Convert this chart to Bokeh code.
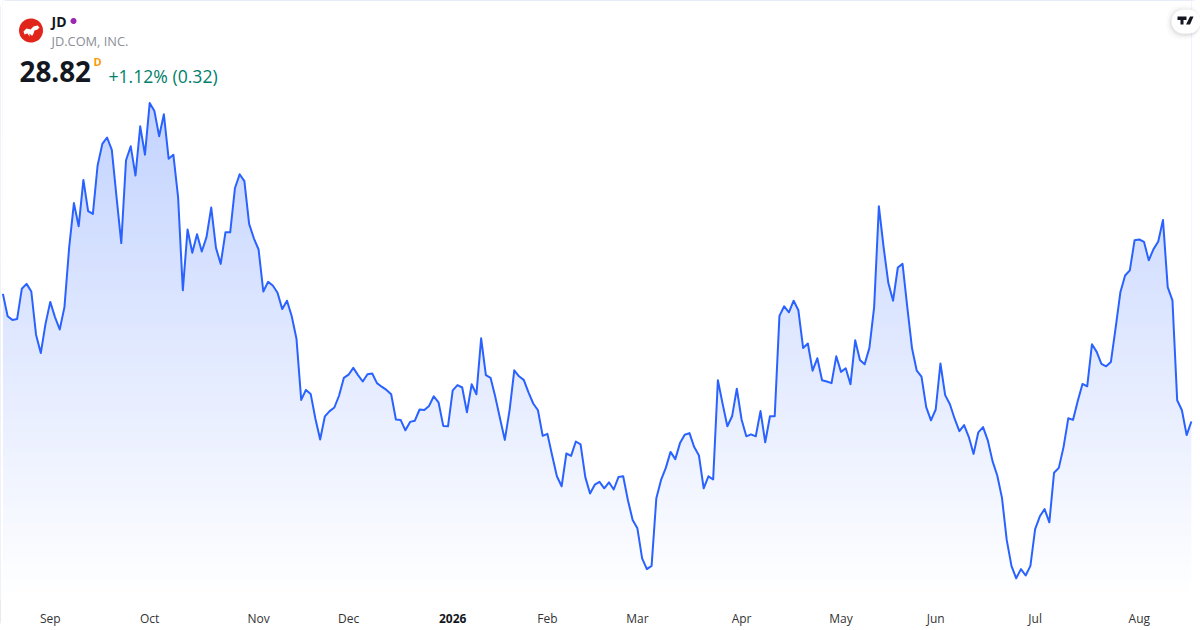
import numpy as np
from bokeh.plotting import figure
from bokeh.embed import file_html
from bokeh.resources import INLINE
from bokeh.models import Range1d, LinearAxis, FixedTicker, Label, BoxAnnotation, PolyAnnotation

close = [
32.01,31.45,31.36,31.38,32.14,32.26,32.07,30.99,30.53,31.26,31.81,31.43,31.12,31.68,33.18,34.28,33.70,34.86,34.08,34.01,
35.22,35.76,35.92,35.61,34.43,33.28,35.35,35.70,34.97,36.20,35.49,36.78,36.58,35.95,36.50,35.39,35.49,34.43,32.10,33.62,
33.04,33.50,33.07,33.43,34.17,33.16,32.76,33.55,33.55,34.65,35.00,34.83,33.76,33.40,33.12,32.07,32.31,32.22,32.04,31.63,
31.84,31.45,30.89,
29.36,29.61,29.51,28.89,28.37,28.95,29.08,29.17,29.47,29.91,29.99,30.16,29.98,29.82,30.00,30.02,29.78,29.69,29.61,29.50,
28.87,28.86,28.60,28.81,28.84,29.12,29.11,29.21,29.45,29.30,28.71,28.70,29.60,29.73,29.67,29.05,29.75,29.50,30.90,29.98,
29.91,29.43,28.89,28.36,29.10,30.10,29.95,29.86,29.55,29.27,29.10,28.46,28.51,27.97,27.45,27.20,28.02,27.96,28.32,28.25,
27.43,27.02,
27.24,27.31,27.15,27.30,27.12,27.43,27.45,26.85,26.36,26.15,25.40,25.13,25.21,26.90,27.36,27.66,28.06,27.88,28.28,28.49,
28.53,28.18,27.97,27.15,27.45,27.37,29.85,29.26,28.70,28.95,29.64,28.87,28.45,28.50,28.45,29.08,28.30,28.95,28.95,31.46,
31.70,31.55,31.84,31.60,30.66,30.77,30.09,30.40,29.85,29.82,29.78,30.45,30.06,30.15,29.75,30.85,30.36,30.25,30.66,31.68,
34.20,33.18,32.28,31.84,32.67,32.76,31.68,30.65,30.09,29.94,29.18,28.85,29.12,30.27,29.48,29.25,28.89,28.58,28.73,28.43,
28.01,28.55,28.68,28.35,27.83,27.47,26.91,25.86,25.21,24.90,25.13,24.97,25.21,26.13,26.45,26.63,26.30,27.54,27.66,28.18,
28.90,28.86,29.33,29.76,29.70,30.75,30.56,30.26,30.20,30.31,31.16,32.05,32.47,32.60,33.35,33.37,33.31,32.85,33.13,33.32,
33.86,32.18,31.85,29.35,29.10,28.48,28.82]
tick_positions = [10, 31, 54, 73, 115, 134, 156, 177, 197, 218, 240]
tick_labels = ["Sep", "Oct", "Nov", "Dec", "Feb", "Mar", "Apr", "May", "Jun", "Jul", "Aug"]
year_position = 95
year_label = "2026"

price = np.array(close)
idx = np.arange(len(price))

W, H, PANEL = 1200, 630, 30
x0, dx = 2.4, 4.735
px_per_unit = 40.0
def X(px): return (px - x0) / dx
def Y(py): return 28.82 + (421.0 - py) / px_per_unit
def Xs(v): return [X(a) for a in v]
def Ys(v): return [Y(a) for a in v]

p = figure(width=W, height=H, frame_width=W, frame_height=H - PANEL, output_backend="svg", toolbar_location=None,
           x_range=Range1d(X(0), X(W)), y_range=Range1d(Y(H - PANEL), Y(0)),
           x_axis_location=None, y_axis_location=None,
           min_border_left=0, min_border_right=0, min_border_top=0, min_border_bottom=0,
           background_fill_color="white", border_fill_color="white",
           outline_line_color=None,
           styles={"outline": "1px solid #e0e3eb", "outline-offset": "-1px", "border-radius": "8px"})
p.grid.visible = False

def month_axis(ticks, labels, font_style, color, standoff):
    ax = LinearAxis(ticker=FixedTicker(ticks=ticks),
                    major_label_overrides={int(a): b for a, b in zip(ticks, labels)})
    ax.axis_line_color = None
    ax.major_tick_line_color = None
    ax.major_tick_out = 0
    ax.major_tick_in = 0
    ax.minor_tick_line_color = None
    ax.major_label_standoff = standoff
    ax.major_label_text_font = "Open Sans"
    ax.major_label_text_font_size = "12px"
    ax.major_label_text_font_style = font_style
    ax.major_label_text_color = color
    p.add_layout(ax, "below")
    return ax

axis = month_axis(tick_positions, tick_labels, "normal", "#333333", 9)
year_axis = month_axis([year_position], [year_label], "bold", "#131722", -16)

# gradient area: vertical fade image, masked above the price line
rows = 600
alpha = np.clip(np.linspace(0, 1, rows) / ((Y(103) - Y(600)) / (Y(0) - Y(600))), 0, 1) * 0.28
img = np.zeros((rows, 2), dtype=np.uint32)
view = img.view(np.uint8).reshape((rows, 2, 4))
view[..., 0] = 41; view[..., 1] = 98; view[..., 2] = 255
view[..., 3] = (alpha[:, None] * 255).astype(np.uint8)
p.image_rgba(image=[img], x=0, y=Y(600), dw=float(idx[-1]), dh=Y(0) - Y(600))
p.varea(x=idx, y1=price, y2=Y(0) * np.ones_like(price), fill_color="white", fill_alpha=1)
p.line(idx, price, line_color="#2962FF", line_width=2, line_join="round")

def label(text, px, py, size, color, style="normal", align="left", font="Open Sans"):
    p.add_layout(Label(x=X(px), y=Y(py), text=text, text_font=font, text_font_size=f"{size}px",
                       text_color=color, text_font_style=style, text_align=align, text_baseline="middle"))

label("JD", 51, 20.5, 14, "#131722", "bold")
label("JD.COM, INC.", 51, 40.5, 12.8, "#8a8e97")
label("28.82", 19, 71, 27.8, "#131722", "bold")
label("D", 93, 61, 11, "#ff9800", "bold")
label("+1.12% (0.32)", 108, 75, 17.6, "#00806a")

# status dot and logo disc
th = np.linspace(0, 2 * np.pi, 40)
def disc(cx, cy, r, color):
    p.add_layout(PolyAnnotation(xs=Xs(cx + r * np.cos(th)), ys=Ys(cy + r * np.sin(th)),
                                fill_color=color, fill_alpha=1, line_color=None))
disc(73, 20.5, 3, "#9c27b0")
disc(30.5, 30, 12, "#e1251b")
p.add_layout(PolyAnnotation(xs=Xs([23, 26, 30, 33, 37, 39, 37, 34, 33, 32, 31, 29, 29, 27, 24]),
                            ys=Ys([31, 28, 29, 26, 25, 27, 29, 30, 33, 35, 35, 33, 36, 33, 34]),
                            fill_color="white", fill_alpha=1, line_color=None))

# badge at the top right
for grow, a in [(5, 0.02), (3, 0.03), (1.5, 0.05)]:
    p.add_layout(BoxAnnotation(left=X(1171 - grow), right=X(1200), top=Y(9 - grow + 1), bottom=Y(33 + grow + 1),
                               fill_color="black", fill_alpha=a, line_color=None, border_radius=14))
p.add_layout(BoxAnnotation(left=X(1171), right=X(1200), top=Y(9), bottom=Y(33),
                           fill_color="white", fill_alpha=1, line_color=None, border_radius=12))
for xs, ys in [([1177, 1186, 1186, 1183, 1183, 1180, 1180, 1177], [16, 16, 19.5, 19.5, 24, 24, 19.5, 19.5]),
               ([1189.5, 1193, 1189.5, 1185.5], [16, 16, 24, 24])]:
    p.add_layout(PolyAnnotation(xs=Xs(xs), ys=Ys(ys), fill_color="#131722", fill_alpha=1, line_color=None))

open("out.html", "w").write(file_html(p, INLINE))
